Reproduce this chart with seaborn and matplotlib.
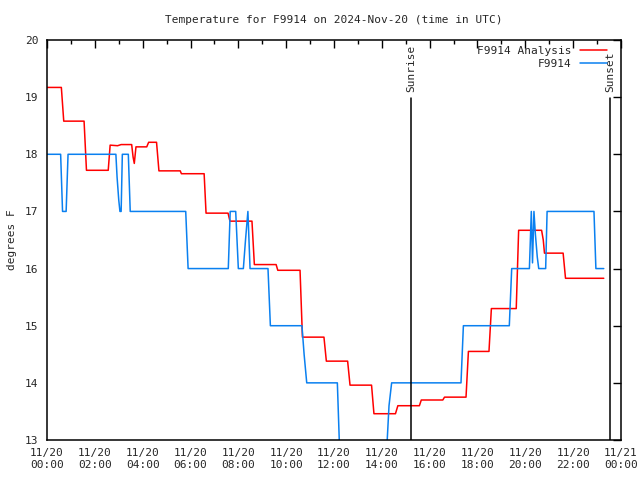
import matplotlib
matplotlib.use("Agg")
import matplotlib.pyplot as plt
import seaborn as sns
import pandas as pd
from matplotlib.ticker import MultipleLocator

sns.set_theme(style="white")
plt.rcParams['font.family'] = ['DejaVu Sans Mono']

# Analysis series (hours since 11/20 00:00 UTC, degrees F)
analysis_hours = [0.0, 0.60, 0.70, 1.55, 1.65, 2.56, 2.64, 2.95, 3.10, 3.54, 3.60, 3.65,
                  3.72, 4.17, 4.25, 4.58, 4.68, 5.57, 5.62, 6.57, 6.65, 7.57, 7.65, 8.57,
                  8.67, 9.58, 9.65, 10.58, 10.68, 11.58, 11.68, 12.57, 12.67, 13.57, 13.67,
                  14.57, 14.67, 15.57, 15.65, 16.55, 16.62, 17.52, 17.62, 18.48, 18.58,
                  19.62, 19.72, 20.68, 20.75, 20.80, 21.58, 21.68, 23.28]
analysis_vals = [19.17, 19.17, 18.58, 18.58, 17.72, 17.72, 18.16, 18.15, 18.17, 18.17, 17.95, 17.84,
                 18.13, 18.13, 18.21, 18.21, 17.71, 17.71, 17.66, 17.66, 16.97, 16.97, 16.83, 16.83,
                 16.07, 16.07, 15.97, 15.97, 14.80, 14.80, 14.38, 14.38, 13.96, 13.96, 13.46,
                 13.46, 13.60, 13.60, 13.70, 13.70, 13.75, 13.75, 14.55, 14.55, 15.30,
                 15.30, 16.67, 16.67, 16.50, 16.27, 16.27, 15.83, 15.83]

# Station series
station_hours = [0.0, 0.57, 0.65, 0.80, 0.88, 2.88, 2.93, 3.00, 3.05, 3.10, 3.15, 3.40, 3.48,
                 5.80, 5.90, 7.58, 7.66, 7.89, 8.00, 8.21, 8.30, 8.40, 8.49, 9.24, 9.34,
                 10.66, 10.75, 10.86, 12.14, 12.30, 14.10, 14.30, 14.41, 17.31, 17.41,
                 19.33, 19.43, 20.17, 20.25, 20.30, 20.36, 20.42, 20.50, 20.56, 20.85,
                 20.91, 22.87, 22.95, 23.28]
station_vals = [18.0, 18.0, 17.0, 17.0, 18.0, 18.0, 17.6, 17.2, 17.0, 17.0, 18.0, 18.0, 17.0,
                17.0, 16.0, 16.0, 17.0, 17.0, 16.0, 16.0, 16.5, 17.0, 16.0, 16.0, 15.0,
                15.0, 14.5, 14.0, 14.0, 12.0, 12.0, 13.6, 14.0, 14.0, 15.0,
                15.0, 16.0, 16.0, 17.0, 16.1, 17.0, 16.6, 16.2, 16.0, 16.0,
                17.0, 17.0, 16.0, 16.0]

tick_hours = [0, 2, 4, 6, 8, 10, 12, 14, 16, 18, 20, 22, 24]
tick_labels = ["11/20\n00:00", "11/20\n02:00", "11/20\n04:00", "11/20\n06:00", "11/20\n08:00",
               "11/20\n10:00", "11/20\n12:00", "11/20\n14:00", "11/20\n16:00", "11/20\n18:00",
               "11/20\n20:00", "11/20\n22:00", "11/21\n00:00"]
sun_hours = [15.22, 23.54]
sun_labels = ["Sunrise", "Sunset"]

df_a = pd.DataFrame({"hour": analysis_hours, "temp": analysis_vals})
df_s = pd.DataFrame({"hour": station_hours, "temp": station_vals})

fig = plt.figure(figsize=(6.4, 4.8), dpi=100)
ax = fig.add_axes([47/640, 40/480, (621-47)/640, 400/480])

sns.lineplot(data=df_a, x="hour", y="temp", ax=ax, color="#ff0000", lw=1.1,
             estimator=None, sort=False, label="F9914 Analysis")
sns.lineplot(data=df_s, x="hour", y="temp", ax=ax, color="#0a80f0", lw=1.1,
             estimator=None, sort=False, label="F9914")

for h, lab in zip(sun_hours, sun_labels):
    ax.axvline(h, ymin=0, ymax=(440-98)/400, color="black", lw=1.1)
    ax.text(h, 0.87, lab, transform=ax.get_xaxis_transform(), rotation=90,
            ha="center", va="bottom", fontsize=8)

ax.set_xlim(0, 24)
ax.set_ylim(13, 20)
ax.set_xticks(tick_hours)
ax.set_xticklabels(tick_labels)
ax.xaxis.set_minor_locator(MultipleLocator(1))
ax.set_yticks(range(13, 21))
ax.tick_params(axis="both", which="both", direction="in", top=True, right=True,
               labelsize=8, color="black")
ax.tick_params(axis="both", which="major", length=6, width=1, pad=6)
ax.tick_params(axis="x", which="minor", length=3, width=1)
for sp in ax.spines.values():
    sp.set_color("black")
    sp.set_linewidth(1.1)

ax.set_xlabel("")
ax.set_ylabel("degrees F", fontsize=8, labelpad=6)
ax.set_title("Temperature for F9914 on 2024-Nov-20 (time in UTC)", fontsize=8, pad=12)

leg = ax.legend(loc="upper right", markerfirst=False, frameon=False, fontsize=8,
                handlelength=2.4, borderaxespad=0.1, labelspacing=0.3,
                bbox_to_anchor=(0.985, 1.0))

fig.savefig("out.png", dpi=100)
